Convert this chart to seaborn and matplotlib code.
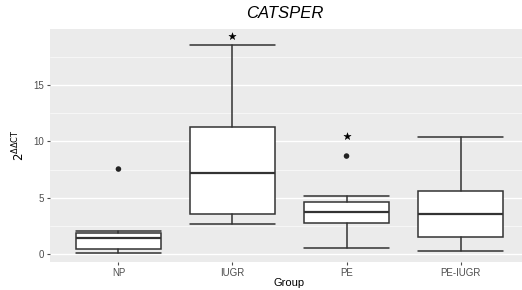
import numpy as np
import pandas as pd
import matplotlib.pyplot as plt
import seaborn as sns

# values
groups = ['NP', 'IUGR', 'PE', 'PE-IUGR']
whislo = [0.15, 2.65, 0.55, 0.3]
q1 = [0.45, 3.6, 2.8, 1.5]
med = [1.45, 7.2, 3.75, 3.6]
q3 = [1.85, 11.25, 4.6, 5.6]
whishi = [2.1, 18.55, 5.15, 10.35]

outlier_group = ['NP', 'PE']
outlier_value = [7.55, 8.7]

star_group = ['IUGR', 'PE']
star_value = [19.35, 10.45]

sns.set_theme(style='darkgrid', rc={
    'axes.facecolor': '#EBEBEB',
    'grid.color': 'white',
    'axes.edgecolor': 'none',
    'xtick.color': '#4D4D4D',
    'ytick.color': '#4D4D4D',
    'xtick.bottom': True,
    'ytick.left': True,
    'xtick.major.size': 2.5,
    'ytick.major.size': 2.5,
    'xtick.major.width': 0.8,
    'ytick.major.width': 0.8,
})
plt.rcParams['font.family'] = ['Liberation Sans', 'DejaVu Sans']

fig = plt.figure(figsize=(5.22, 2.9), dpi=100)
ax = fig.add_axes([0.0958, 0.0966, 0.9176, 0.8034])

# box stats
stats = []
for i, g in enumerate(groups):
    stats.append({'label': g, 'whislo': whislo[i], 'q1': q1[i], 'med': med[i],
                  'q3': q3[i], 'whishi': whishi[i], 'fliers': []})

line_col = '#333333'
ax.bxp(stats, positions=range(len(groups)), widths=0.75, capwidths=0.75,
       patch_artist=True, showfliers=False,
       boxprops=dict(facecolor='white', edgecolor=line_col, linewidth=1.1),
       medianprops=dict(color=line_col, linewidth=1.6),
       whiskerprops=dict(color=line_col, linewidth=1.1),
       capprops=dict(color=line_col, linewidth=1.1))

out_df = pd.DataFrame({'x': [groups.index(g) for g in outlier_group], 'y': outlier_value})
sns.scatterplot(data=out_df, x='x', y='y', ax=ax, color='#222222', s=16,
                edgecolor='none', zorder=5)

star_df = pd.DataFrame({'x': [groups.index(g) for g in star_group], 'y': star_value})
sns.scatterplot(data=star_df, x='x', y='y', ax=ax, color='black', marker='*', s=30,
                edgecolor='black', linewidth=0.3, zorder=5)

ax.set_xlim(-0.6, 3.6)
ax.set_ylim(-0.68, 19.95)
ax.set_xticks(range(len(groups)))
ax.set_xticklabels(groups)
ax.set_yticks([0, 5, 10, 15])
ax.set_yticklabels(['0', '5', '10', '15'])
ax.set_yticks([2.5, 7.5, 12.5, 17.5], minor=True)
ax.grid(False, axis='x')
ax.grid(which='major', axis='y', color='white', linewidth=1.0)
ax.grid(which='minor', axis='y', color='white', linewidth=0.5, alpha=0.8)
ax.tick_params(axis='both', which='major', labelsize=7, pad=2)
ax.tick_params(axis='y', which='minor', left=False)

ax.set_xlabel('Group', fontsize=8, color='black', labelpad=0)
ax.set_ylabel(r'$2^{\Delta\Delta\mathrm{CT}}$', fontsize=8.5, color='black', labelpad=4)
fig.text(0.546, 0.955, 'CATSPER', ha='center', va='center', fontsize=12,
         fontstyle='italic', color='black')

fig.savefig('out.png', dpi=100)
